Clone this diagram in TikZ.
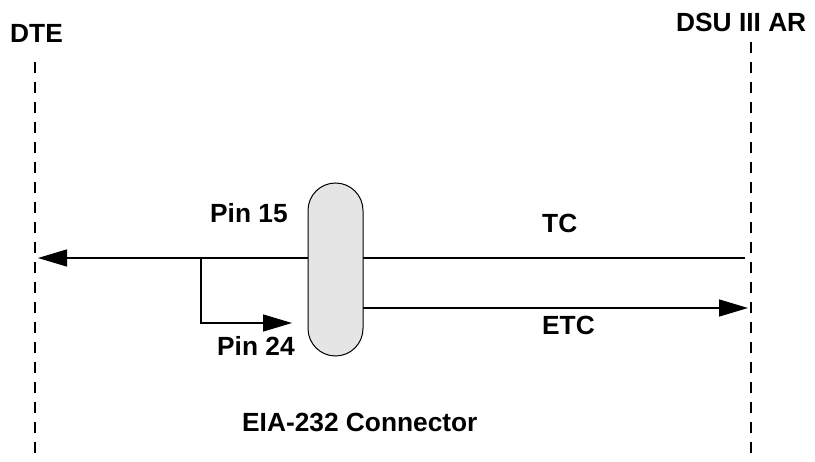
\documentclass[tikz,border=0pt]{standalone}
\usepackage{fontspec}
\setmainfont{Liberation Sans}
\usetikzlibrary{arrows.meta}

\tikzset{
    lbl/.style = {anchor=base west, inner sep=0pt, font=\fontsize{26.3}{30}\selectfont\bfseries},
    sig/.style = {line width=1.3pt, -{Triangle[length=29pt,width=17pt]}},
    side/.style = {line width=1.6pt, dash pattern=on 11pt off 9pt}
}

\begin{document}
\begin{tikzpicture}[x=1pt, y=-1pt]
        \useasboundingbox (0,0) rectangle (815,462);
        % DTE side
        \node[lbl] (dte) at (10,43) {DTE};
        \coordinate (dteT) at (35,62);
        \coordinate (dteB) at (35,462);
        \draw[side] (dteT) -- (dteB);
        % DSU side
        \node[lbl] (dsu) at (676,32) {DSU III AR};
        \coordinate (dsuT) at (751,42);
        \coordinate (dsuB) at (751,462);
        \draw[side] (dsuT) -- (dsuB);
        % TC
        \coordinate (tcR) at (745,258);
        \coordinate (tcL) at (38,258);
        \coordinate (br) at (201,258);
        \coordinate (pin24) at (292,323);
        \draw[sig] (tcR) -- (tcL);
        \draw[sig] (br) |- (pin24);
        % Connector
        \node[draw, line width=1pt, fill=black!10, rounded corners=27.5pt,
              minimum width=55pt, minimum height=173pt, inner sep=0pt] (conn) at (335.5,269.5) {};
        % ETC
        \coordinate (etcL) at (363,308);
        \coordinate (etcR) at (748,308);
        \draw[sig] (etcL) -- (etcR);
        % labels
        \node[lbl] (p15) at (210,223) {Pin 15};
        \node[lbl] (p24) at (217,356) {Pin 24};
        \node[lbl] (tc) at (542,233) {TC};
        \node[lbl] (etc) at (542,335) {ETC};
        \node[lbl] (eia) at (242,432) {EIA-232 Connector};
\end{tikzpicture}
\end{document}
